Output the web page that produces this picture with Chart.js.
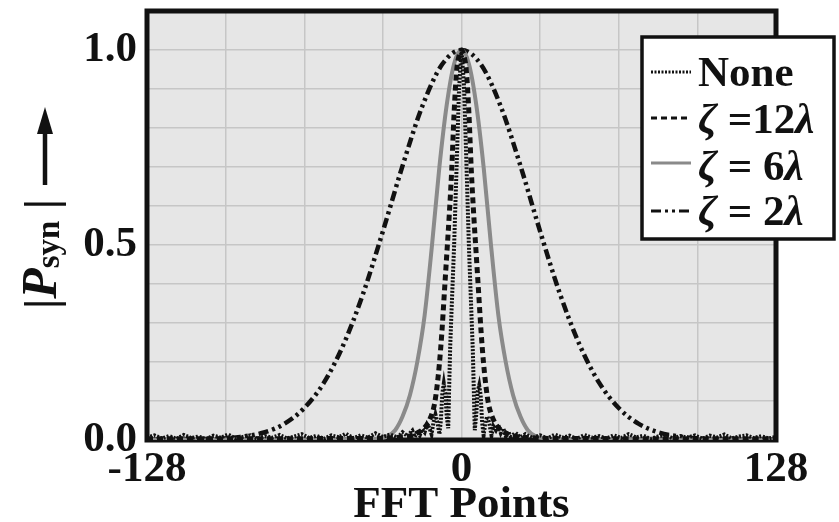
<!DOCTYPE html>
<html lang="en">
<head>
<meta charset="UTF-8">
<title>FFT Points</title>
<script src="https://cdn.jsdelivr.net/npm/chart.js@4"></script>
<style>
  body { margin: 0; background: #ffffff; }
  canvas { display: block; }
</style>
</head>
<body>
<canvas id="fftChart" width="839" height="522" style="width:839px;height:522px"></canvas>
<script>
// Series (x = FFT point, y = |Psyn|)
const noneX = [-128,-125,-122,-119,-116,-113,-110,-107,-104,-101,-98,-95,-92,-89,-86,-83,-80,-77,-74,-71,
  -68,-65,-62,-59,-56,-53,-50,-47,-44,-41,-38,-35,-32,-29,-26,-24,-22,-20,-19,-18,-17,-16,-15,-14,-13,
  -12.2,-11.4,-10.6,-9.8,-9,-8.4,-7.8,-7.2,-6.6,-6,-5.4,-5,-4.6,-4,-3,-2,-1,0,
  1,2,3,4,4.6,5,5.4,6,6.6,7.2,7.8,8.4,9,9.8,10.6,11.4,12.2,13,14,15,16,17,18,19,20,22,24,
  26,29,32,35,38,41,44,47,50,53,56,59,62,65,68,71,74,77,80,83,86,89,92,95,98,101,104,107,110,113,116,119,122,125,128];
const noneY = [0.006,0.012,0.004,0.010,0.003,0.013,0.005,0.009,0.002,0.011,0.006,0.014,0.004,0.008,0.012,0.003,0.010,0.006,0.013,0.004,
  0.009,0.015,0.005,0.011,0.003,0.012,0.007,0.016,0.005,0.012,0.006,0.017,0.008,0.014,0.006,0.020,0.010,0.024,0.008,0.022,0.012,0.028,0.020,0.040,0.030,
  0.015,0.045,0.065,0.045,0.015,0.050,0.120,0.145,0.120,0.060,0.030,0.140,0.240,0.340,0.500,0.700,0.900,1.000,
  0.910,0.710,0.500,0.330,0.230,0.130,0.025,0.065,0.125,0.140,0.115,0.045,0.012,0.050,0.060,0.040,0.012,0.035,0.025,0.038,0.018,0.030,0.010,0.022,0.009,0.018,0.007,
  0.015,0.005,0.012,0.004,0.014,0.006,0.011,0.003,0.013,0.006,0.010,0.004,0.012,0.005,0.015,0.007,0.011,0.003,0.009,0.013,0.004,0.010,0.006,0.012,0.003,0.011,0.007,0.014,0.004,0.009,0.012,0.005,0.010,0.004,0.008];

const zeta12X = [-128,-100,-70,-50,-40,-30,-24,-20,-18,-16,-14,-13,-12,-11,-10,-9,-8,-7,-6,-5,-4,-3,-2,-1,0,
  1,2,3,4,5,6,7,8,9,10,11,12,13,14,16,18,20,24,30,40,50,70,100,128];
const zeta12Y = [0.003,0.003,0.003,0.004,0.004,0.005,0.008,0.012,0.018,0.026,0.040,0.052,0.068,0.092,0.135,0.195,0.275,0.375,0.475,0.575,0.690,0.840,0.945,0.985,1.000,
  0.985,0.945,0.840,0.690,0.575,0.475,0.375,0.275,0.195,0.135,0.092,0.068,0.052,0.040,0.026,0.018,0.012,0.008,0.005,0.004,0.004,0.003,0.003,0.003];

const zeta6X = [-128,-60,-40,-34,-30,-27,-24,-21,-18,-15,-12,-9,-6,-3,0,3,6,9,12,15,18,21,24,27,30,34,40,60,128];
const zeta6Y = [0.001,0.001,0.002,0.004,0.010,0.025,0.060,0.115,0.200,0.320,0.500,0.700,0.860,0.965,1.000,
  0.965,0.860,0.700,0.500,0.320,0.200,0.115,0.060,0.025,0.010,0.004,0.002,0.001,0.001];

const zeta2X = [-128,-112,-100,-90,-80,-72,-64,-56,-48,-40,-32,-24,-16,-8,0,8,16,24,32,40,48,56,64,72,80,90,100,112,128];
const zeta2Y = [0.001,0.002,0.003,0.008,0.020,0.042,0.082,0.147,0.245,0.376,0.535,0.703,0.855,0.962,1.000,
  0.962,0.855,0.703,0.535,0.376,0.245,0.147,0.082,0.042,0.020,0.008,0.003,0.002,0.001];

const seriesLabels = ['None', 'ζ =12λ', 'ζ = 6λ', 'ζ = 2λ'];
const xTickValues = [-128, 0, 128];
const xTickLabels = ['-128', '0', '128'];
const yTickValues = [0, 0.5, 1.0];
const yTickLabels = ['0.0', '0.5', '1.0'];

const SERIF = '"Liberation Serif", "Times New Roman", serif';

function toPoints(xs, ys) {
  return xs.map((x, i) => ({ x: x, y: ys[i] }));
}

function labelFor(value, values, labels) {
  const idx = values.findIndex(v => Math.abs(v - value) < 1e-6);
  return idx >= 0 ? labels[idx] : '';
}

// grey plot background and the heavy black frame
const framePlugin = {
  id: 'frame',
  beforeDraw(chart) {
    const a = chart.chartArea;
    const c = chart.ctx;
    c.save();
    c.fillStyle = '#e6e6e6';
    c.fillRect(a.left, a.top, a.right - a.left, a.bottom - a.top);
    c.restore();
  },
  beforeDatasetsDraw(chart) {
    const a = chart.chartArea;
    const c = chart.ctx;
    c.save();
    c.strokeStyle = '#111111';
    c.lineWidth = 5;
    c.strokeRect(a.left, a.top, a.right - a.left, a.bottom - a.top);
    c.restore();
  }
};

// rotated |Psyn| title with the upward arrow
const yTitlePlugin = {
  id: 'yTitle',
  afterDraw(chart) {
    const c = chart.ctx;
    c.save();
    c.translate(56, 309);
    c.rotate(-Math.PI / 2);
    c.fillStyle = '#111111';
    c.textBaseline = 'alphabetic';
    let u = 0;
    const parts = [
      { t: '|', f: 'bold 46px ' + SERIF, dy: 0 },
      { t: 'P', f: 'italic bold 50px ' + SERIF, dy: 0 },
      { t: 'syn', f: 'bold 33px ' + SERIF, dy: 3 },
      { t: ' |', f: 'bold 46px ' + SERIF, dy: 0 }
    ];
    parts.forEach(p => {
      c.font = p.f;
      c.fillText(p.t, u, p.dy);
      u += c.measureText(p.t).width;
    });
    c.restore();

    // arrow
    c.save();
    c.strokeStyle = '#111111';
    c.fillStyle = '#111111';
    c.lineWidth = 4.5;
    c.beginPath();
    c.moveTo(45, 185);
    c.lineTo(45, 128);
    c.stroke();
    c.beginPath();
    c.moveTo(45, 107);
    c.lineTo(37, 134);
    c.lineTo(53, 134);
    c.closePath();
    c.fill();
    c.restore();
  }
};

// boxed legend with italic Greek letters
const legendPlugin = {
  id: 'boxLegend',
  afterDraw(chart) {
    const c = chart.ctx;
    const box = { x: 642, y: 37, w: 192, h: 202 };
    c.save();
    c.fillStyle = '#ffffff';
    c.fillRect(box.x, box.y, box.w, box.h);
    c.strokeStyle = '#111111';
    c.lineWidth = 3.5;
    c.strokeRect(box.x, box.y, box.w, box.h);

    const baselines = [86, 133, 180, 225];
    const lineYs = [72, 118, 163, 211];
    chart.data.datasets.forEach((ds, i) => {
      c.save();
      c.strokeStyle = ds.borderColor;
      c.lineWidth = Math.min(ds.borderWidth, 4) * 0.8;
      c.setLineDash(ds.borderDash || []);
      c.beginPath();
      c.moveTo(651, lineYs[i]);
      c.lineTo(691, lineYs[i]);
      c.stroke();
      c.restore();

      let x = 698;
      c.fillStyle = '#111111';
      c.textBaseline = 'alphabetic';
      for (const ch of ds.label) {
        const greek = ch === 'ζ' || ch === 'λ';
        c.font = (greek ? 'italic bold 43px ' : 'bold 43px ') + SERIF;
        c.fillText(ch, x, baselines[i]);
        x += c.measureText(ch).width;
      }
    });
    c.restore();
  }
};

const ctx = document.getElementById('fftChart').getContext('2d');

const chart = new Chart(ctx, {
  type: 'line',
  data: {
    datasets: [
      {
        label: seriesLabels[0],
        data: toPoints(noneX, noneY),
        borderColor: '#111111',
        borderWidth: 4,
        borderDash: [2, 1.5],
        tension: 0
      },
      {
        label: seriesLabels[1],
        data: toPoints(zeta12X, zeta12Y),
        borderColor: '#111111',
        borderWidth: 5,
        borderDash: [6, 4],
        cubicInterpolationMode: 'monotone'
      },
      {
        label: seriesLabels[2],
        data: toPoints(zeta6X, zeta6Y),
        borderColor: '#8a8a8a',
        borderWidth: 4,
        cubicInterpolationMode: 'monotone'
      },
      {
        label: seriesLabels[3],
        data: toPoints(zeta2X, zeta2Y),
        borderColor: '#111111',
        borderWidth: 4.5,
        borderDash: [10, 4, 3, 4, 3, 4],
        cubicInterpolationMode: 'monotone'
      }
    ]
  },
  options: {
    responsive: false,
    animation: false,
    layout: { padding: { top: 11, right: 63, left: 0, bottom: 0 } },
    elements: { point: { radius: 0 } },
    plugins: {
      legend: { display: false },
      tooltip: { enabled: false }
    },
    scales: {
      x: {
        type: 'linear',
        min: -128,
        max: 128,
        afterFit: scale => {
          scale.height = 82;
          scale.paddingLeft = 0;
          scale.paddingRight = 0;
        },
        border: { display: false },
        grid: { color: '#c6c6c6', lineWidth: 1.5, drawTicks: false },
        ticks: {
          stepSize: 32,
          autoSkip: false,
          maxRotation: 0,
          padding: 8,
          color: '#111111',
          font: { family: SERIF, size: 43, weight: 'bold', lineHeight: 1 },
          callback: value => labelFor(value, xTickValues, xTickLabels)
        },
        title: {
          display: true,
          text: 'FFT Points',
          color: '#111111',
          font: { family: SERIF, size: 45, weight: 'bold', lineHeight: 1 },
          padding: { top: 0, bottom: -6 }
        }
      },
      y: {
        min: 0,
        max: 1.1,
        afterFit: scale => {
          scale.width = 147;
          scale.paddingTop = 0;
          scale.paddingBottom = 0;
        },
        border: { display: false },
        grid: { color: '#c6c6c6', lineWidth: 1.5, drawTicks: false },
        ticks: {
          stepSize: 0.1,
          autoSkip: false,
          padding: 10,
          color: '#111111',
          font: { family: SERIF, size: 43, weight: 'bold', lineHeight: 1 },
          callback: value => labelFor(value, yTickValues, yTickLabels)
        }
      }
    }
  },
  plugins: [framePlugin, yTitlePlugin, legendPlugin]
});
</script>
</body>
</html>
